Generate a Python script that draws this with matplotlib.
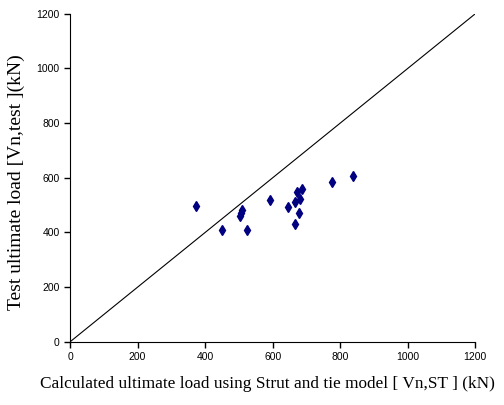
import matplotlib
matplotlib.use("Agg")
import matplotlib.pyplot as plt

# calculated (strut and tie) vs test ultimate load, kN
calc_load = [372, 451, 510, 507, 504, 523, 593, 644, 665, 672, 687, 682, 679, 665, 776, 837]
test_load = [495, 410, 483, 473, 462, 410, 520, 494, 512, 549, 559, 521, 471, 431, 585, 607]
ticks = [0, 200, 400, 600, 800, 1000, 1200]

fig = plt.figure(figsize=(5.04, 4.05), dpi=100)
ax = fig.add_axes([0.139, 0.156, 0.804, 0.81])

ax.plot([0, 1200], [0, 1200], color="black", lw=0.8)
ax.plot(calc_load, test_load, linestyle="none", marker="d", markersize=5.5,
        color="#000080", markeredgecolor="#000080")

ax.set_xlim(0, 1200)
ax.set_ylim(0, 1200)
ax.set_xticks(ticks)
ax.set_yticks(ticks)
for s in ["top", "right"]:
    ax.spines[s].set_visible(False)
ax.tick_params(direction="out", length=4, width=1)
for lab in ax.get_xticklabels() + ax.get_yticklabels():
    lab.set_family(["Liberation Sans Narrow", "Liberation Sans", "DejaVu Sans"])
    lab.set_fontsize(7.5)

ax.set_xlabel("Calculated ultimate load using Strut and tie model [ Vn,ST ] (kN)",
              family="Liberation Serif", fontsize=12.4)
ax.xaxis.set_label_coords(0.486, -0.105)
ax.set_ylabel("Test ultimate load [Vn,test ](kN)",
              family="Liberation Serif", fontsize=14)
ax.yaxis.set_label_coords(-0.11, 0.488)

fig.savefig("out.png", dpi=100)
